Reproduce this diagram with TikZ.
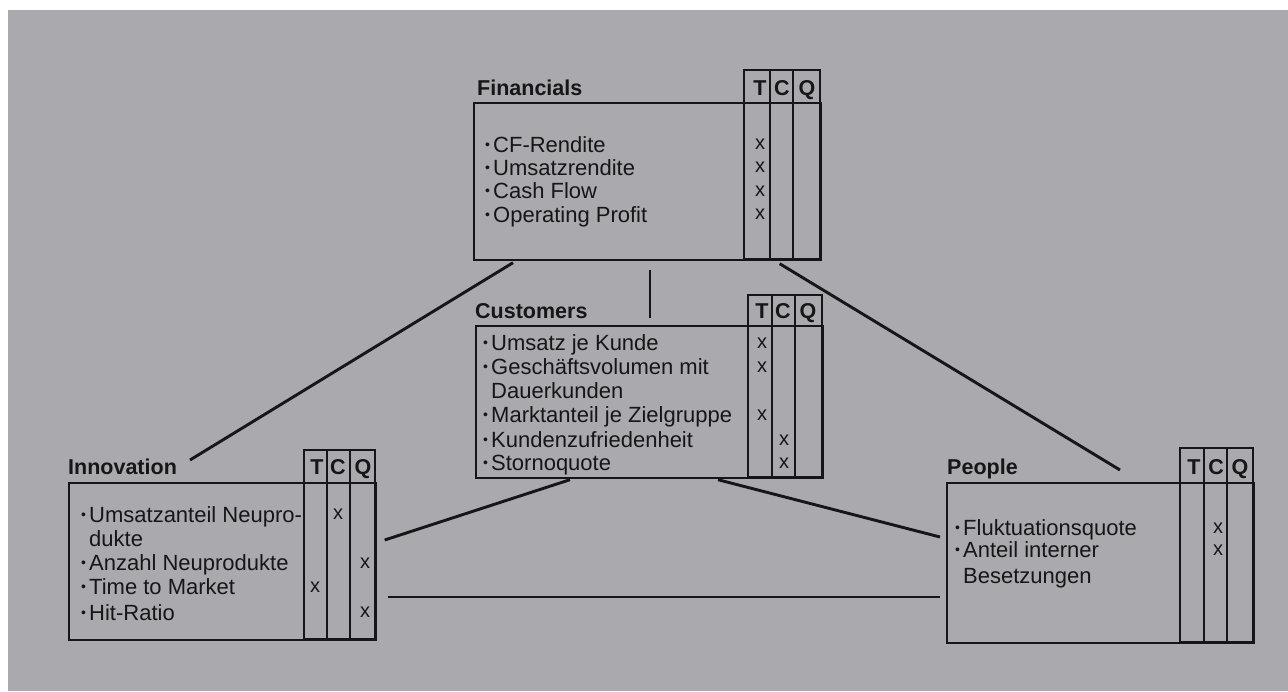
\documentclass[tikz,border=0pt]{standalone}
\usepackage{fontspec}
\setmainfont{Liberation Sans}
\definecolor{bg}{RGB}{170,169,173}
\definecolor{ink}{RGB}{22,22,24}
\newcommand\bul{\makebox[8pt][l]{\fontsize{14}{14}\selectfont\raisebox{2.6pt}{\textbullet}}}
\tikzset{
  txt/.style={font=\fontsize{22}{24}\selectfont, inner sep=0pt, anchor=base west, text=ink},
  hdr/.style={font=\bfseries\fontsize{21.5}{24}\selectfont, inner sep=0pt, anchor=base west, text=ink},
  col/.style={font=\bfseries\fontsize{21.5}{24}\selectfont, inner sep=0pt, anchor=base, text=ink},
  mk/.style={font=\fontsize{20}{24}\selectfont, inner sep=0pt, anchor=base, text=ink},
  mainbox/.style={draw=ink, line width=1.7pt, inner sep=0pt, anchor=north west},
  boxline/.style={draw=ink, line width=1.7pt},
  conn/.style={draw=ink, line width=2.9pt}
}
\begin{document}
\begin{tikzpicture}[x=1pt,y=-1pt]
\useasboundingbox (0,0) rectangle (1288,691);
\fill[white] (0,0) rectangle (1288,691);
\fill[bg] (8,10) rectangle (1288,691);

% ---------- Financials ----------
\node[mainbox, minimum width=347pt, minimum height=157pt] (fin) at (473,102) {};
\draw[boxline] (744,70) rectangle (820,259);
\draw[boxline] (770,70) -- (770,259);
\draw[boxline] (793,70) -- (793,259);
\node[hdr] (finL) at (477,95) {Financials};
\node[col] (finT) at (760,95) {T};
\node[col] (finC) at (782,95) {C};
\node[col] (finQ) at (807,95) {Q};
\node[txt] (fin1) at (485,152) {\bul CF-Rendite};
\node[txt] (fin2) at (485,175) {\bul Umsatzrendite};
\node[txt] (fin3) at (485,198) {\bul Cash Flow};
\node[txt] (fin4) at (485,222) {\bul Operating Profit};
\node[mk] (finx1) at (760,149) {x};
\node[mk] (finx2) at (760,172) {x};
\node[mk] (finx3) at (760,196) {x};
\node[mk] (finx4) at (760,219) {x};

% ---------- Customers ----------
\node[mainbox, minimum width=347pt, minimum height=152pt] (cus) at (475,325) {};
\draw[boxline] (748,295) rectangle (822,477);
\draw[boxline] (772,295) -- (772,477);
\draw[boxline] (795,295) -- (795,477);
\node[hdr] (cusL) at (475,318) {Customers};
\node[col] (cusT) at (762,318) {T};
\node[col] (cusC) at (783,318) {C};
\node[col] (cusQ) at (808,318) {Q};
\node[txt] (cus1) at (483,350) {\bul Umsatz je Kunde};
\node[txt] (cus2) at (483,374) {\bul Geschäftsvolumen mit};
\node[txt] (cus3) at (491,398) {Dauerkunden};
\node[txt] (cus4) at (483,422) {\bul Marktanteil je Zielgruppe};
\node[txt] (cus5) at (483,447) {\bul Kundenzufriedenheit};
\node[txt] (cus6) at (483,470) {\bul Stornoquote};
\node[mk] (cusx1) at (762,348) {x};
\node[mk] (cusx2) at (762,372) {x};
\node[mk] (cusx4) at (762,420) {x};
\node[mk] (cusx5) at (784,445) {x};
\node[mk] (cusx6) at (784,468) {x};

% ---------- Innovation ----------
\node[mainbox, minimum width=307pt, minimum height=157pt] (inn) at (68,482) {};
\draw[boxline] (304,450) rectangle (375,639);
\draw[boxline] (327,450) -- (327,639);
\draw[boxline] (350,450) -- (350,639);
\node[hdr] (innL) at (68,474) {Innovation};
\node[col] (innT) at (317,474) {T};
\node[col] (innC) at (338,474) {C};
\node[col] (innQ) at (363,474) {Q};
\node[txt] (inn1) at (81,522) {\bul Umsatzanteil Neupro-};
\node[txt] (inn2) at (89,546) {dukte};
\node[txt] (inn3) at (81,570) {\bul Anzahl Neuprodukte};
\node[txt] (inn4) at (81,594) {\bul Time to Market};
\node[txt] (inn5) at (81,620) {\bul Hit-Ratio};
\node[mk] (innx1) at (338,519) {x};
\node[mk] (innx3) at (365,568) {x};
\node[mk] (innx4) at (315,592) {x};
\node[mk] (innx5) at (365,617) {x};

% ---------- People ----------
\node[mainbox, minimum width=307pt, minimum height=160pt] (ppl) at (946,482) {};
\draw[boxline] (1180,448) rectangle (1253,642);
\draw[boxline] (1204,448) -- (1204,642);
\draw[boxline] (1227,448) -- (1227,642);
\node[hdr] (pplL) at (947,474) {People};
\node[col] (pplT) at (1194,474) {T};
\node[col] (pplC) at (1216,474) {C};
\node[col] (pplQ) at (1240,474) {Q};
\node[txt] (ppl1) at (955,535) {\bul Fluktuationsquote};
\node[txt] (ppl2) at (955,557) {\bul Anteil interner};
\node[txt] (ppl3) at (963,583) {Besetzungen};
\node[mk] (pplx1) at (1218,533) {x};
\node[mk] (pplx2) at (1218,555) {x};

% ---------- Connectors ----------
\draw[conn] ([shift={(40,2)}]fin.south west) -- ([shift={(122,-22)}]inn.north west);
\draw[conn] ([shift={(177,9)}]fin.south west) -- ([shift={(175,-7)}]cus.north west);
\draw[conn] ([shift={(-42,3)}]fin.south east) -- ([shift={(174,-12)}]ppl.north west);
\draw[conn] ([shift={(95,1)}]cus.south west) -- ([shift={(8,58)}]inn.north east);
\draw[conn] ([shift={(243,1)}]cus.south west) -- ([shift={(-6,55)}]ppl.north west);
\draw[conn] ([shift={(11,115)}]inn.north east) -- ([shift={(-6,115)}]ppl.north west);
\end{tikzpicture}
\end{document}
